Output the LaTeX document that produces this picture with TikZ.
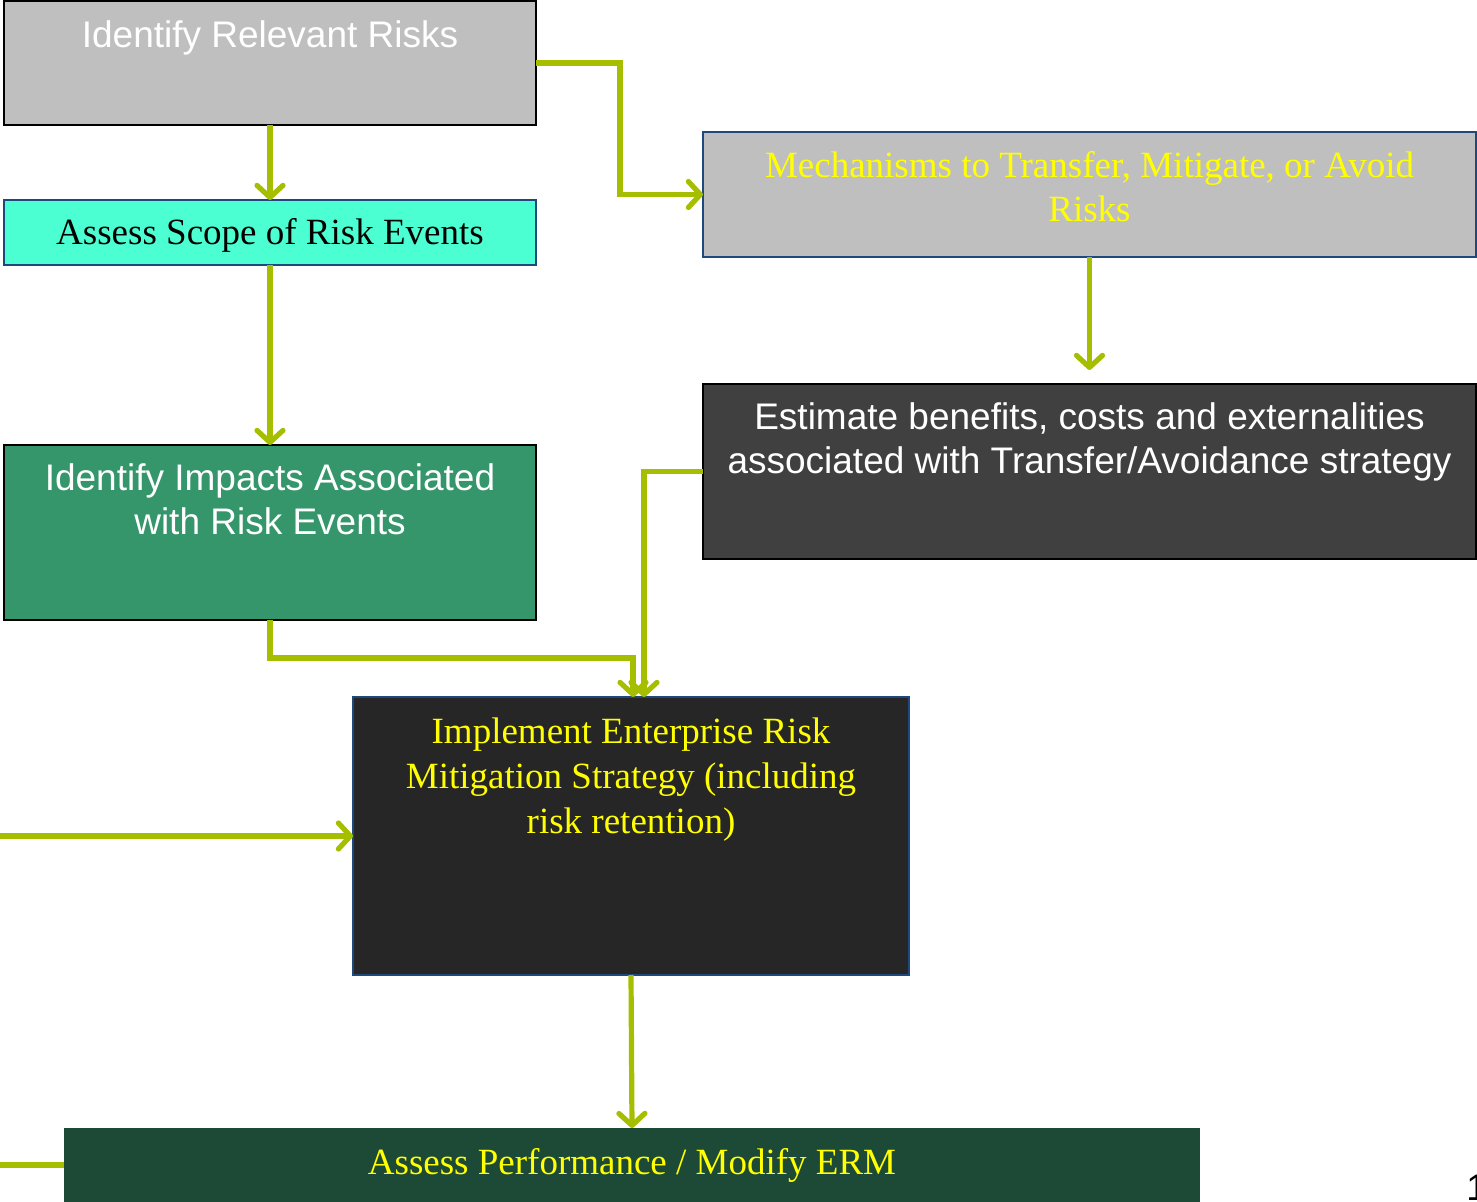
\documentclass[tikz,border=0pt]{standalone}
\usepackage{fontspec}
\setmainfont{Liberation Serif}
\setsansfont{Liberation Sans}
\usetikzlibrary{arrows.meta,fit}
\definecolor{boxgrey}{HTML}{BFBFBF}
\definecolor{aqua}{HTML}{4CFFD3}
\definecolor{midgreen}{HTML}{35966B}
\definecolor{darkgrey}{HTML}{404040}
\definecolor{nearblack}{HTML}{262626}
\definecolor{forest}{HTML}{1D4A36}
\definecolor{edgeblue}{HTML}{1F497D}
\definecolor{arrowgreen}{HTML}{A5BE00}
\definecolor{txtyellow}{HTML}{FFFF00}
\newcommand\bigsans{\sffamily\fontsize{18.5pt}{22pt}\selectfont}
\newcommand\bigserif{\rmfamily\fontsize{18.5pt}{22pt}\selectfont}
\begin{document}
\begin{tikzpicture}[x=0.5pt,y=-0.5pt,
  box/.style={inner sep=0pt, outer sep=0pt, line width=1.1pt},
  lbl/.style={inner sep=0pt, anchor=base},
  conn/.style={draw=arrowgreen, line width=2.6pt, line join=miter,
    -{Straight Barb[length=6pt,width=13pt,line cap=round,line join=round]}},
  plainline/.style={draw=arrowgreen, line width=3pt}]
\useasboundingbox (0,0) rectangle (1477,1202);

% boxes
\node[box, fit={(4,1)(536,125)}, fill=boxgrey, draw=black] (risks) {};
\node[box, fit={(4,200)(536,265)}, fill=aqua, draw=edgeblue] (scope) {};
\node[box, fit={(4,445)(536,620)}, fill=midgreen, draw=black] (impacts) {};
\node[box, fit={(703,132)(1476,257)}, fill=boxgrey, draw=edgeblue] (mech) {};
\node[box, fit={(703,384)(1476,559)}, fill=darkgrey, draw=black] (est) {};
\node[box, fit={(353,697)(909,975)}, fill=nearblack, draw=edgeblue] (impl) {};
\node[box, fit={(64,1128)(1200,1202)}, fill=forest] (perf) {};

% texts
\node[lbl, text=white, font=\bigsans] (t1) at (270,48) {Identify Relevant Risks};
\node[lbl, text=black, font=\bigserif] (t2) at (270,245) {Assess Scope of Risk Events};
\node[lbl, text=white, font=\bigsans] (t3a) at (270,491) {Identify Impacts Associated};
\node[lbl, text=white, font=\bigsans] (t3b) at (270,535) {with Risk Events};
\node[lbl, text=txtyellow, font=\bigserif] (t4a) at (1089.5,178) {Mechanisms to Transfer, Mitigate, or Avoid};
\node[lbl, text=txtyellow, font=\bigserif] (t4b) at (1089.5,222) {Risks};
\node[lbl, text=white, font=\bigsans] (t5a) at (1089.5,430) {Estimate benefits, costs and externalities};
\node[lbl, text=white, font=\bigsans] (t5b) at (1089.5,474) {associated with Transfer/Avoidance strategy};
\node[lbl, text=txtyellow, font=\bigserif] (t6a) at (631,743) {Implement Enterprise Risk};
\node[lbl, text=txtyellow, font=\bigserif] (t6b) at (631,788) {Mitigation Strategy (including};
\node[lbl, text=txtyellow, font=\bigserif] (t6c) at (631,833) {risk retention)};
\node[lbl, text=txtyellow, font=\bigserif] (t7) at (632,1174) {Assess Performance / Modify ERM};
\node[inner sep=0pt, anchor=base west, text=black, font=\bigsans] (pg) at (1466,1200) {1};

% connectors
\draw[conn] (risks.south) -- (scope.north);
\draw[conn] (risks.east) -- ++(84,0) |- (mech.west);
\draw[conn] (scope.south) -- (impacts.north);
\draw[conn, shorten >=7pt] (mech.south) -- (est.north);
\draw[conn] (est.west) -| ([xshift=6.5pt]impl.north);
\draw[conn] (impacts.south) -- ++(0,38) -| ([xshift=1pt]impl.north);
\coordinate (in1) at (0,836);
\draw[conn] (in1) -- (impl.west);
\draw[conn] (impl.south) -- (perf.north);
\coordinate (in2) at (0,1165);
\draw[plainline] (in2) -- (perf.west);
\end{tikzpicture}
\end{document}
